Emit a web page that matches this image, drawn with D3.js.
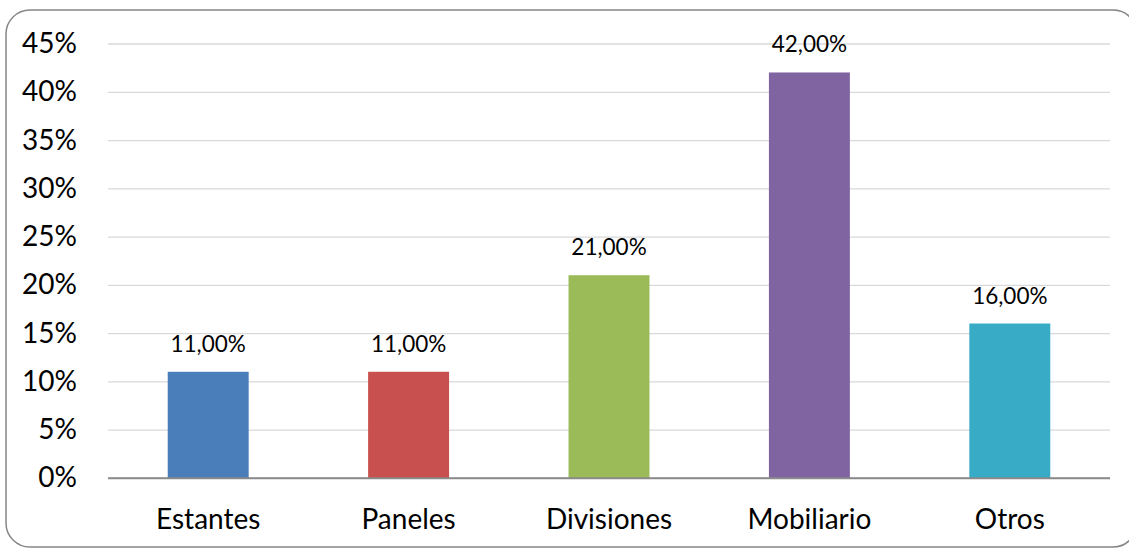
<!DOCTYPE html>
<html><head><meta charset="utf-8">
<script src="https://cdn.jsdelivr.net/npm/d3@7/dist/d3.min.js"></script>
<style>html,body{margin:0;padding:0;background:#fff;}svg{display:block;}</style>
</head><body>
<svg id="chart" width="1129" height="548"></svg>
<script>
const categories = ["Estantes", "Paneles", "Divisiones", "Mobiliario", "Otros"];
const values = [0.11, 0.11, 0.21, 0.42, 0.16];
const colors = ["#4A7EBB", "#C8504E", "#9BBB59", "#8064A2", "#38ACC6"];
const tickValues = [0, 0.05, 0.10, 0.15, 0.20, 0.25, 0.30, 0.35, 0.40, 0.45];
const labelTexts = ["11,00%", "11,00%", "21,00%", "42,00%", "16,00%"];

(function () {
const svg = d3.select("#chart");
const font = "Lato, 'Open Sans', sans-serif";

svg.append("rect").attr("x", 6).attr("y", 10).attr("width", 1131).attr("height", 537)
  .attr("rx", 24).attr("ry", 24).attr("fill", "#fff").attr("stroke", "#878787").attr("stroke-width", 1.5);

const pLeft = 108, pRight = 1110, pTop = 43.5, pBottom = 478;
const x = d3.scaleBand().domain(categories).range([pLeft, pRight]).paddingInner(0.596).paddingOuter(0.298);
const y = d3.scaleLinear().domain([0, 0.45]).range([pBottom, pTop]);

const yAxis = d3.axisLeft(y).tickValues(tickValues).tickSize(-(pRight - pLeft)).tickPadding(31)
  .tickFormat(d => Math.round(d * 100) + "%");
const gy = svg.append("g").attr("transform", `translate(${pLeft},0)`).call(yAxis);
gy.select(".domain").remove();
gy.selectAll(".tick line").attr("stroke", d => d === 0 ? "#8a8a8a" : "#d9d9d9").attr("stroke-width", 1.3);
gy.selectAll(".tick text").attr("font-family", font).attr("font-size", 28).attr("fill", "#000");

svg.append("g").selectAll("rect").data(values).join("rect")
  .attr("x", (d, i) => x(categories[i]))
  .attr("width", x.bandwidth())
  .attr("y", d => y(d))
  .attr("height", d => y(0) - y(d))
  .attr("fill", (d, i) => colors[i]);

svg.append("line").attr("x1", pLeft).attr("x2", pRight).attr("y1", y(0)).attr("y2", y(0))
  .attr("stroke", "#8a8a8a").attr("stroke-width", 1.3);

svg.append("g").selectAll("text").data(values).join("text")
  .attr("x", (d, i) => x(categories[i]) + x.bandwidth() / 2)
  .attr("y", d => y(d) - 20)
  .attr("text-anchor", "middle")
  .attr("font-family", font).attr("font-size", 22.5).attr("fill", "#000")
  .text((d, i) => labelTexts[i]);

const xAxis = d3.axisBottom(x).tickSize(0).tickPadding(31);
const gx = svg.append("g").attr("transform", `translate(0,${pBottom})`).call(xAxis);
gx.select(".domain").remove();
gx.selectAll(".tick text").attr("font-family", font).attr("font-size", 28).attr("fill", "#000");
})();
</script>
</body></html>
